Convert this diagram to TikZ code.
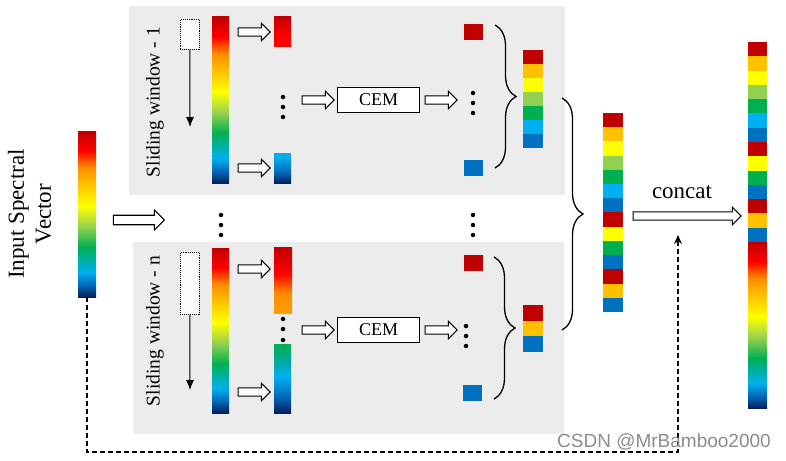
\documentclass[tikz,border=0pt]{standalone}
\usepackage{fontspec}
\setmainfont{Liberation Serif}
\newfontfamily\wmfont{Liberation Sans}
\usetikzlibrary{shapes.arrows,decorations.pathreplacing,arrows.meta,calc}

\definecolor{dred}{HTML}{C00000}
\definecolor{red}{HTML}{FF0000}
\definecolor{orng}{HTML}{FF8C00}
\definecolor{gold}{HTML}{FFC000}
\definecolor{yellow}{HTML}{FFFF00}
\definecolor{lgreen}{HTML}{92D050}
\definecolor{green}{HTML}{00B050}
\definecolor{teal}{HTML}{00A8A0}
\definecolor{cyan}{HTML}{00B0F0}
\definecolor{blue}{HTML}{0070C0}
\definecolor{dblue}{HTML}{002060}
\definecolor{panel}{RGB}{236,236,236}
\definecolor{winfill}{RGB}{250,250,250}
\definecolor{wm}{RGB}{140,140,140}

\pgfdeclareverticalshading{spec}{100bp}{color(0bp)=(dblue); color(25bp)=(dblue); color(29bp)=(blue); color(32.5bp)=(cyan); color(40bp)=(green); color(46bp)=(lgreen); color(52.5bp)=(yellow); color(59bp)=(gold); color(64bp)=(orng); color(69bp)=(red); color(75bp)=(dred); color(100bp)=(dred)}
\pgfdeclareverticalshading{redseg}{100bp}{color(0bp)=(red); color(25bp)=(red); color(45bp)=(red); color(75bp)=(dred); color(100bp)=(dred)}
\pgfdeclareverticalshading{blueseg}{100bp}{color(0bp)=(dblue); color(25bp)=(dblue); color(45bp)=(blue); color(70bp)=(cyan); color(100bp)=(cyan)}
\pgfdeclareverticalshading{redorange}{100bp}{color(0bp)=(gold); color(25bp)=(orng!70!gold); color(40bp)=(orng); color(55bp)=(red); color(75bp)=(dred); color(100bp)=(dred)}
\pgfdeclareverticalshading{greenblue}{100bp}{color(0bp)=(dblue); color(25bp)=(dblue); color(38bp)=(blue); color(52bp)=(cyan); color(62bp)=(teal); color(75bp)=(green); color(100bp)=(green)}

\begin{document}
\begin{tikzpicture}[x=1pt,y=-1pt,
  cell/.style={inner sep=0, outer sep=0, anchor=north west, draw=none},
  harrow/.style={single arrow, draw=black, fill=white, line width=1.1, inner xsep=0, inner ysep=3.6,
    single arrow head extend=4.6, minimum height=#1},
  dot/.style={circle, fill=black, inner sep=0, minimum size=4.5},
  winbox/.style={draw=black, densely dotted, line width=0.9, fill=winfill, inner sep=0, anchor=north west},
  cembox/.style={draw=black, line width=1.8, fill=white, minimum width=82, minimum height=25, inner sep=0, font=\fontsize{18}{20}\selectfont},
  curly/.style={decorate, decoration={brace, amplitude=#1}, line width=1.3},
  downarr/.style={line width=1, -{Latex[length=10,width=8]}}
]
\useasboundingbox (0,0) rectangle (786,460);

% panels
\node[cell, fill=panel, minimum width=436, minimum height=189] (panA) at (129,6) {};
\node[cell, fill=panel, minimum width=431, minimum height=192] (panB) at (133,242) {};

% input
\node[cell, shading=spec, shade, minimum width=18, minimum height=166] (inbar) at (78,131) {};
\node[rotate=90, align=center, font=\fontsize{23}{27}\selectfont] (intext) at (29.5,214) {Input Spectral\\Vector};
\node[harrow=51, inner ysep=4.2, single arrow head extend=5.3] (inarr) at (136.5,220) {};

% ===== panel 1 =====
\node[rotate=90, font=\fontsize{19.5}{22}\selectfont] (sw1) at (155,102) {Sliding window - 1};
\node[winbox, minimum width=19, minimum height=30] (win1) at (180,19) {};
\coordinate (dn1) at (190,127);
\draw[downarr] (win1.south) -- (dn1);
\node[cell, shading=spec, shade, minimum width=17, minimum height=166] (bar1) at (212,17) {};
\node[harrow=32] (a1t) at (252,32) {};
\node[harrow=32] (a1b) at (252,168) {};
\node[cell, shading=redseg, shade, minimum width=17, minimum height=30] (p1t) at (274,17) {};
\node[cell, shading=blueseg, shade, minimum width=17, minimum height=30] (p1b) at (274,153) {};
\node[dot] (d1a) at (283,97) {};
\node[dot] (d1b) at (283,107) {};
\node[dot] (d1c) at (283,117) {};
\node[harrow=32] (a1c) at (316,100) {};
\node[cembox] (cem1) at (378.5,100) {CEM};
\node[harrow=32] (a1d) at (439,100) {};
\node[dot] (e1a) at (473,93) {};
\node[dot] (e1b) at (473,103) {};
\node[dot] (e1c) at (473,113) {};
\node[cell, fill=dred, minimum width=19, minimum height=16] (q1t) at (464,24) {};
\node[cell, fill=blue, minimum width=19, minimum height=16] (q1b) at (464,160) {};
\coordinate (b1t) at (495,25);
\coordinate (b1b) at (495,168);
\draw[curly=21] (b1t) -- (b1b);
\foreach \c [count=\i] in {dred,gold,yellow,lgreen,green,cyan,blue}
  \node[cell, fill=\c, minimum width=20, minimum height=14.1] (sa\i) at (523,{50+(\i-1)*14}) {};

% between dots
\node[dot] (m1) at (221,215) {};
\node[dot] (m2) at (221,225) {};
\node[dot] (m3) at (221,235) {};
\node[dot] (m4) at (473,215) {};
\node[dot] (m5) at (473,225) {};
\node[dot] (m6) at (473,235) {};

% ===== panel n =====
\node[rotate=90, font=\fontsize{19.5}{22}\selectfont] (sw2) at (155,331) {Sliding window - n};
\node[winbox, minimum width=19, minimum height=62] (win2) at (180,252) {};
\coordinate (dn2) at (190,390);
\draw[downarr] (win2.south) -- (dn2);
\node[cell, shading=spec, shade, minimum width=17, minimum height=165] (bar2) at (212,248) {};
\node[harrow=32] (a2t) at (252,269) {};
\node[harrow=32] (a2b) at (252,392) {};
\node[cell, shading=redorange, shade, minimum width=18, minimum height=66] (p2t) at (274,247) {};
\node[cell, shading=greenblue, shade, minimum width=17, minimum height=69] (p2b) at (274,344) {};
\node[dot] (d2a) at (283,319) {};
\node[dot] (d2b) at (283,329) {};
\node[dot] (d2c) at (283,340) {};
\node[harrow=32] (a2c) at (316,330) {};
\node[cembox] (cem2) at (378.5,330) {CEM};
\node[harrow=32] (a2d) at (439,330) {};
\node[dot] (e2a) at (466,326) {};
\node[dot] (e2b) at (466,336) {};
\node[dot] (e2c) at (466,346) {};
\node[cell, fill=dred, minimum width=19, minimum height=16] (q2t) at (464,255) {};
\node[cell, fill=blue, minimum width=19, minimum height=16] (q2b) at (463,385) {};
\coordinate (b2t) at (494,257);
\coordinate (b2b) at (494,399);
\draw[curly=21] (b2t) -- (b2b);
\foreach \c [count=\i] in {dred,gold,blue}
  \node[cell, fill=\c, minimum width=20, minimum height=15.8] (sb\i) at (523,{305+(\i-1)*15.7}) {};

% big brace
\coordinate (bbt) at (562,98);
\coordinate (bbb) at (562,330);
\draw[curly=21] (bbt) -- (bbb);

% middle column
\foreach \c [count=\i] in {dred,gold,yellow,lgreen,green,cyan,blue,dred,yellow,green,blue,dred,gold,blue}
  \node[cell, fill=\c, minimum width=20, minimum height=14.3] (mc\i) at (603,{113+(\i-1)*14.21}) {};

% concat
\node[harrow=108] (carr) at (685,216) {};
\node[font=\fontsize{23}{27}\selectfont] (ctext) at (682,192) {concat};

% right column
\foreach \c [count=\i] in {dred,gold,yellow,lgreen,green,cyan,blue,dred,yellow,green,blue,dred,gold,blue}
  \node[cell, fill=\c, minimum width=19, minimum height=14.4] (rc\i) at (748,{42+(\i-1)*14.29}) {};
\node[cell, shading=spec, shade, minimum width=19, minimum height=166] (rbar) at (748,242) {};

% dashed skip connection
\coordinate (dcorner) at (678,452);
\coordinate (dend) at (678,235);
\draw[dash pattern=on 5pt off 3pt, line width=1.1, -{Stealth[length=9,width=8]}] (inbar.south) |- (dcorner) -- (dend);

% watermark
\node[font=\wmfont\fontsize{19}{22}\selectfont, text=wm] (wmark) at (664,442) {CSDN @MrBamboo2000};
\end{tikzpicture}
\end{document}
